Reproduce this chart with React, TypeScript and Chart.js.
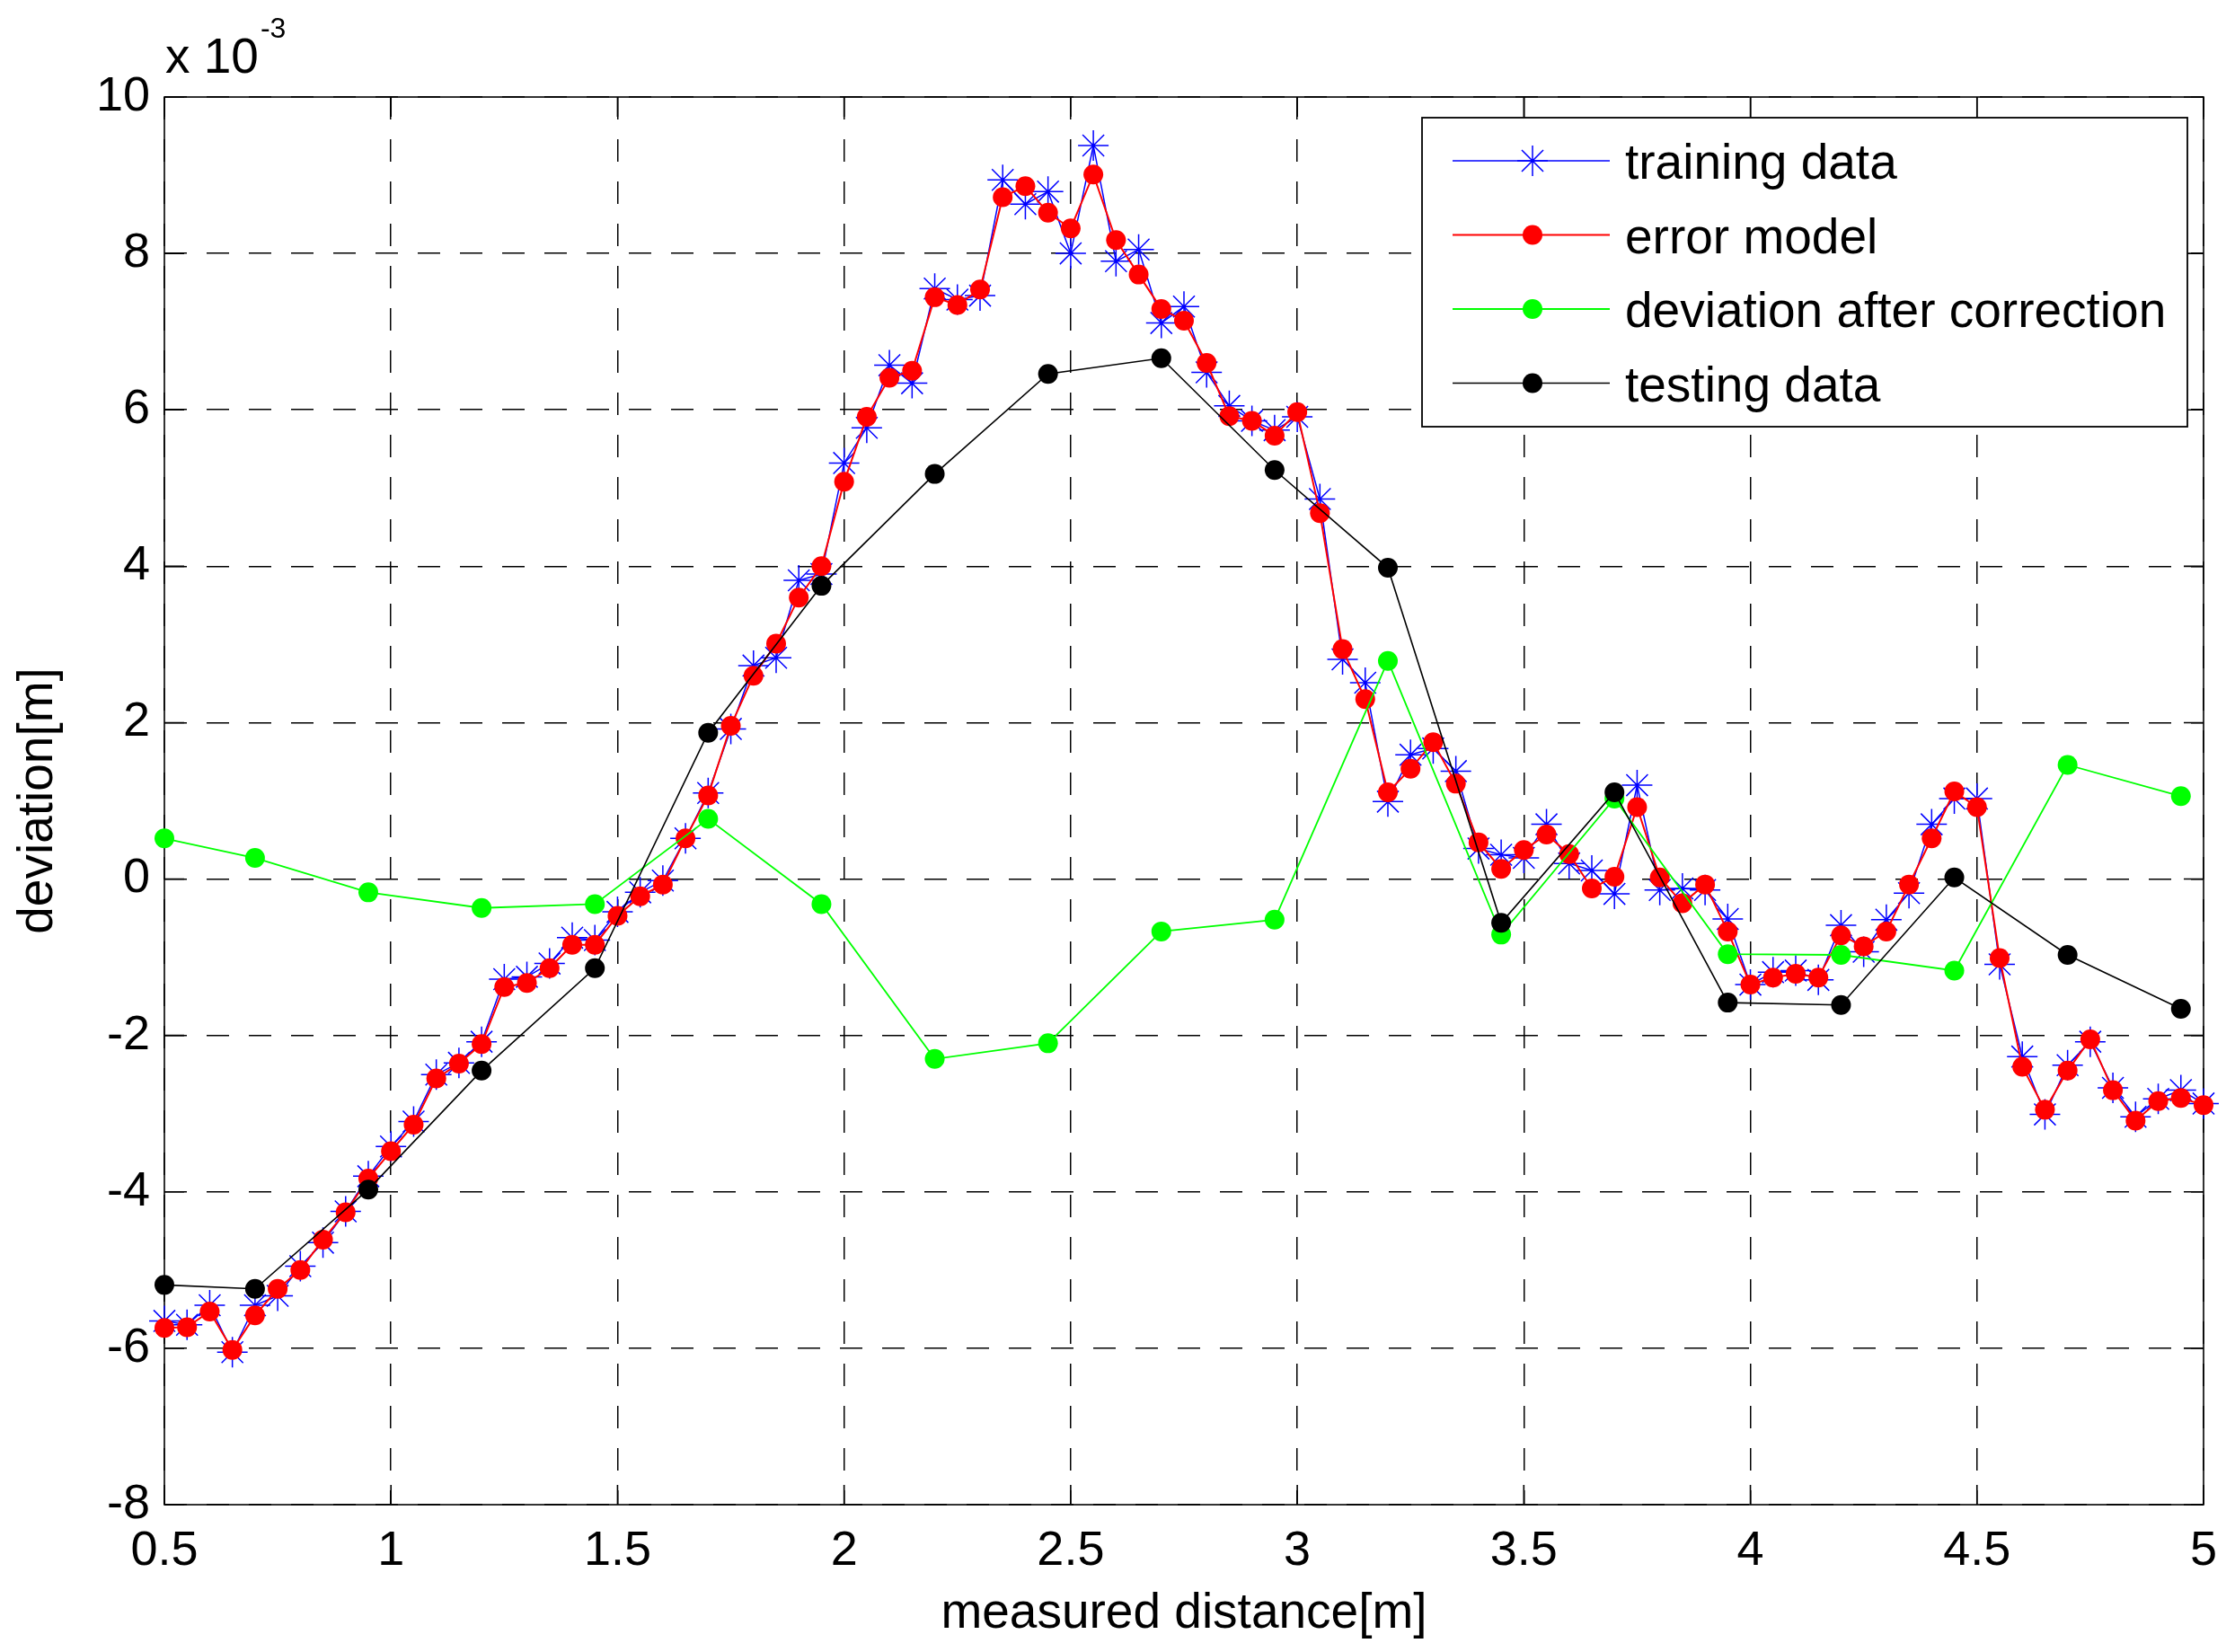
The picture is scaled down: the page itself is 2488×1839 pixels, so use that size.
import React, { useEffect, useRef } from 'react';
import { Chart, registerables, ChartConfiguration, Plugin } from 'chart.js';

Chart.register(...registerables);

// all deviations in units of 1e-3 m (axis shows "x 10^-3")
const modelX = [
  0.5, 0.55, 0.6, 0.65, 0.7, 0.75, 0.8, 0.85, 0.9, 0.95,
  1, 1.05, 1.1, 1.15, 1.2, 1.25, 1.3, 1.35, 1.4, 1.45,
  1.5, 1.55, 1.6, 1.65, 1.7, 1.75, 1.8, 1.85, 1.9, 1.95,
  2, 2.05, 2.1, 2.15, 2.2, 2.25, 2.3, 2.35, 2.4, 2.45,
  2.5, 2.55, 2.6, 2.65, 2.7, 2.75, 2.8, 2.85, 2.9, 2.95,
  3, 3.05, 3.1, 3.15, 3.2, 3.25, 3.3, 3.35, 3.4, 3.45,
  3.5, 3.55, 3.6, 3.65, 3.7, 3.75, 3.8, 3.85, 3.9, 3.95,
  4, 4.05, 4.1, 4.15, 4.2, 4.25, 4.3, 4.35, 4.4, 4.45,
  4.5, 4.55, 4.6, 4.65, 4.7, 4.75, 4.8, 4.85, 4.9, 4.95,
  5,
];

const trainingY = [
  -5.65, -5.70, -5.45, -6.05, -5.45, -5.33, -4.95, -4.65, -4.25, -3.80,
  -3.42, -3.10, -2.50, -2.35, -2.08, -1.28, -1.25, -1.08, -0.75, -0.78,
  -0.42, -0.17, -0.02, 0.52, 1.10, 1.92, 2.73, 2.83, 3.82, 3.90,
  5.32, 5.77, 6.57, 6.34, 7.55, 7.41, 7.46, 8.94, 8.63, 8.79,
  8.00, 9.38, 7.90, 8.05, 7.11, 7.32, 6.48, 6.05, 5.86, 5.74,
  5.91, 4.86, 2.81, 2.51, 0.99, 1.59, 1.67, 1.38, 0.39, 0.31,
  0.27, 0.70, 0.20, 0.11, -0.19, 1.20, -0.14, -0.12, -0.14, -0.51,
  -1.35, -1.19, -1.17, -1.29, -0.59, -0.93, -0.52, -0.18, 0.70, 1.03,
  1.03, -1.09, -2.27, -3.01, -2.38, -2.08, -2.67, -3.04, -2.81, -2.70,
  -2.87,
];

const modelY = [
  -5.74, -5.73, -5.53, -6.02, -5.58, -5.24, -5.00, -4.61, -4.26, -3.83,
  -3.48, -3.14, -2.55, -2.36, -2.11, -1.38, -1.33, -1.14, -0.84, -0.84,
  -0.47, -0.22, -0.07, 0.52, 1.07, 1.96, 2.60, 3.01, 3.60, 4.00,
  5.08, 5.91, 6.41, 6.50, 7.44, 7.34, 7.54, 8.72, 8.86, 8.52,
  8.32, 9.01, 8.17, 7.73, 7.29, 7.14, 6.60, 5.92, 5.86, 5.67,
  5.97, 4.68, 2.94, 2.30, 1.11, 1.41, 1.75, 1.22, 0.47, 0.13,
  0.37, 0.57, 0.32, -0.12, 0.03, 0.92, 0.02, -0.31, -0.07, -0.67,
  -1.35, -1.26, -1.21, -1.26, -0.72, -0.86, -0.67, -0.07, 0.52, 1.12,
  0.92, -1.01, -2.40, -2.95, -2.45, -2.05, -2.70, -3.09, -2.84, -2.80,
  -2.89,
];

const testX = [0.5, 0.7, 0.95, 1.2, 1.45, 1.7, 1.95, 2.2, 2.45, 2.7, 2.95, 3.2, 3.45, 3.7, 3.95, 4.2, 4.45, 4.7, 4.95];
const testingY = [-5.19, -5.24, -3.97, -2.45, -1.14, 1.87, 3.75, 5.18, 6.46, 6.66, 5.23, 3.98, -0.56, 1.11, -1.58, -1.61, 0.02, -0.97, -1.66];
const correctedY = [0.52, 0.27, -0.17, -0.37, -0.32, 0.77, -0.32, -2.30, -2.10, -0.67, -0.52, 2.79, -0.71, 1.03, -0.96, -0.97, -1.17, 1.46, 1.06];

const seriesLabels = ['training data', 'error model', 'deviation after correction', 'testing data'];

const xTickValues = [0.5, 1, 1.5, 2, 2.5, 3, 3.5, 4, 4.5, 5];
const xTickLabels = ['0.5', '1', '1.5', '2', '2.5', '3', '3.5', '4', '4.5', '5'];
const yTickValues = [-8, -6, -4, -2, 0, 2, 4, 6, 8, 10];
const yTickLabels = ['-8', '-6', '-4', '-2', '0', '2', '4', '6', '8', '10'];

const FONT = '"Liberation Sans", Arial, Helvetica, sans-serif';
const W = 2488;
const H = 1839;

const toPoints = (xs: number[], ys: number[]) => xs.map((x, i) => ({ x, y: ys[i] }));

// box round the axes plus MATLAB-style inward tick marks
const framePlugin: Plugin<'line'> = {
  id: 'frame',
  beforeDatasetsDraw(chart) {
    const { ctx, chartArea: a, scales } = chart;
    const len = 22;
    ctx.save();
    ctx.setLineDash([]);
    ctx.strokeStyle = '#000';
    ctx.lineWidth = 1.6;
    ctx.beginPath();
    scales.x.ticks.forEach((t) => {
      const px = scales.x.getPixelForValue(t.value);
      ctx.moveTo(px, a.bottom);
      ctx.lineTo(px, a.bottom - len);
      ctx.moveTo(px, a.top);
      ctx.lineTo(px, a.top + len);
    });
    scales.y.ticks.forEach((t) => {
      const py = scales.y.getPixelForValue(t.value);
      ctx.moveTo(a.left, py);
      ctx.lineTo(a.left + len, py);
      ctx.moveTo(a.right, py);
      ctx.lineTo(a.right - len, py);
    });
    ctx.stroke();
    ctx.strokeRect(a.left, a.top, a.right - a.left, a.bottom - a.top);
    ctx.restore();
  },
};

const legendPlugin: Plugin<'line'> = {
  id: 'boxLegend',
  afterDatasetsDraw(chart) {
    const { ctx, chartArea: a } = chart;
    const left = a.left + 1400;
    const right = left + 852;
    const top = a.top + 23;
    const bottom = top + 344;
    ctx.save();
    ctx.fillStyle = '#fff';
    ctx.fillRect(left, top, right - left, bottom - top);
    ctx.strokeStyle = '#000';
    ctx.lineWidth = 1.8;
    ctx.setLineDash([]);
    ctx.strokeRect(left, top, right - left, bottom - top);

    chart.data.datasets.forEach((ds: any, i) => {
      const y = top + 48 + i * 82.5;
      const x0 = left + 34;
      const x1 = left + 209;
      const mx = left + 123;
      ctx.strokeStyle = ds.borderColor;
      ctx.lineWidth = ds.borderWidth;
      ctx.beginPath();
      ctx.moveTo(x0, y);
      ctx.lineTo(x1, y);
      ctx.stroke();
      const r = ds.pointRadius;
      if (ds.pointStyle === 'star') {
        ctx.lineWidth = ds.pointBorderWidth;
        const d = r * Math.SQRT1_2;
        ctx.beginPath();
        ctx.moveTo(mx - r, y); ctx.lineTo(mx + r, y);
        ctx.moveTo(mx, y - r); ctx.lineTo(mx, y + r);
        ctx.moveTo(mx - d, y - d); ctx.lineTo(mx + d, y + d);
        ctx.moveTo(mx - d, y + d); ctx.lineTo(mx + d, y - d);
        ctx.stroke();
      } else {
        ctx.fillStyle = ds.pointBackgroundColor;
        ctx.beginPath();
        ctx.arc(mx, y, r, 0, Math.PI * 2);
        ctx.fill();
      }
      ctx.fillStyle = '#000';
      ctx.font = `55px ${FONT}`;
      ctx.textAlign = 'left';
      ctx.textBaseline = 'alphabetic';
      ctx.fillText(ds.label, left + 226, y + 20);
    });
    ctx.restore();
  },
};

const exponentPlugin: Plugin<'line'> = {
  id: 'exponent',
  afterDraw(chart) {
    const { ctx, chartArea: a } = chart;
    ctx.save();
    ctx.fillStyle = '#000';
    ctx.textAlign = 'left';
    ctx.textBaseline = 'alphabetic';
    ctx.font = `55px ${FONT}`;
    ctx.fillText('x 10', a.left + 1, a.top - 27);
    const w = ctx.measureText('x 10').width;
    ctx.font = `32px ${FONT}`;
    ctx.fillText('-3', a.left + 3 + w, a.top - 66);
    ctx.restore();
  },
};

const DeviationChart: React.FC = () => {
  const canvasRef = useRef<HTMLCanvasElement | null>(null);
  const chartRef = useRef<Chart | null>(null);

  useEffect(() => {
    document.body.style.margin = '0';
    if (!canvasRef.current) return;

    const tickFont = { family: FONT, size: 54 };
    const titleFont = { family: FONT, size: 55 };

    const config: ChartConfiguration<'line'> = {
      type: 'line',
      data: {
        datasets: [
          {
            label: seriesLabels[0],
            data: toPoints(modelX, trainingY),
            borderColor: '#0000ff',
            borderWidth: 1.5,
            pointStyle: 'star',
            pointRadius: 17,
            pointBorderColor: '#0000ff',
            pointBackgroundColor: '#0000ff',
            pointBorderWidth: 1.5,
            order: 3,
            clip: false as any,
          },
          {
            label: seriesLabels[1],
            data: toPoints(modelX, modelY),
            borderColor: '#ff0000',
            borderWidth: 2,
            pointStyle: 'circle',
            pointRadius: 11,
            pointBorderWidth: 0,
            pointBackgroundColor: '#ff0000',
            order: 2,
            clip: false as any,
          },
          {
            label: seriesLabels[2],
            data: toPoints(testX, correctedY),
            borderColor: '#00ff00',
            borderWidth: 1.8,
            pointStyle: 'circle',
            pointRadius: 11,
            pointBorderWidth: 0,
            pointBackgroundColor: '#00ff00',
            order: 1,
            clip: false as any,
          },
          {
            label: seriesLabels[3],
            data: toPoints(testX, testingY),
            borderColor: '#000000',
            borderWidth: 1.6,
            pointStyle: 'circle',
            pointRadius: 11,
            pointBorderWidth: 0,
            pointBackgroundColor: '#000000',
            order: 0,
            clip: false as any,
          },
        ],
      },
      options: {
        animation: false,
        responsive: false,
        devicePixelRatio: 1,
        layout: { padding: { left: 0, right: 30, top: 108, bottom: 0 } },
        plugins: {
          legend: { display: false },
          tooltip: { enabled: false },
        },
        elements: { line: { tension: 0 } },
        scales: {
          x: {
            type: 'linear',
            min: 0.5,
            max: 5,
            afterFit: (s: any) => { s.height = 164; },
            afterBuildTicks: (s: any) => { s.ticks = xTickValues.map((value) => ({ value })); },
            ticks: {
              autoSkip: false,
              maxRotation: 0,
              padding: 20,
              color: '#000',
              font: tickFont,
              callback: (_v, i) => xTickLabels[i],
            },
            grid: { color: '#000', lineWidth: 1.5, drawTicks: false },
            border: { display: false, dash: [25, 22] },
            title: {
              display: true,
              text: 'measured distance[m]',
              color: '#000',
              font: titleFont,
              padding: { top: 0, bottom: 9 },
            },
          },
          y: {
            type: 'linear',
            min: -8,
            max: 10,
            afterFit: (s: any) => { s.width = 183; },
            afterBuildTicks: (s: any) => { s.ticks = yTickValues.map((value) => ({ value })); },
            ticks: {
              autoSkip: false,
              padding: 16,
              color: '#000',
              font: tickFont,
              callback: (_v, i) => yTickLabels[i],
            },
            grid: { color: '#000', lineWidth: 1.5, drawTicks: false },
            border: { display: false, dash: [25, 22] },
            title: {
              display: true,
              text: 'deviation[m]',
              color: '#000',
              font: titleFont,
              padding: { top: 10, bottom: 0 },
            },
          },
        },
      },
      plugins: [framePlugin, legendPlugin, exponentPlugin],
    };

    chartRef.current?.destroy();
    chartRef.current = new Chart(canvasRef.current, config);

    return () => {
      chartRef.current?.destroy();
      chartRef.current = null;
    };
  }, []);

  return (
    <div style={{ width: W, height: H, background: '#fff' }}>
      <canvas ref={canvasRef} width={W} height={H} style={{ width: W, height: H, display: 'block' }} />
    </div>
  );
};

export default function App() {
  return <DeviationChart />;
}
